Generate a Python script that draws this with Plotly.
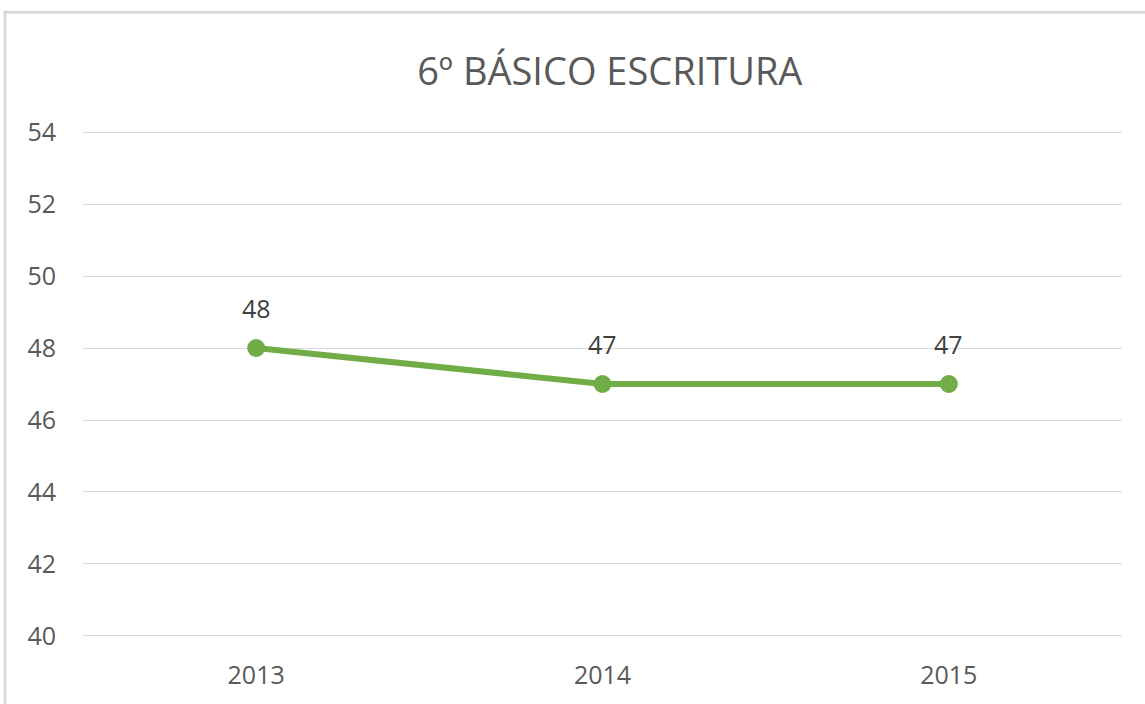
import plotly.graph_objects as go

years = ["2013", "2014", "2015"]
values = [48, 47, 47]
y_ticks = [40, 42, 44, 46, 48, 50, 52, 54]
title_text = "6º BÁSICO ESCRITURA"

FONT = "Open Sans"
fig = go.Figure()
fig.add_trace(go.Scatter(
    x=years, y=values, mode="lines+markers",
    line=dict(color="#70ad47", width=6),
    marker=dict(color="#70ad47", size=18),
    hoverinfo="x+y", showlegend=False, cliponaxis=False,
))
for i, yv in enumerate(values):
    fig.add_annotation(x=i, y=yv, xref="x", yref="y", text=str(yv), showarrow=False,
                       yshift=40, font=dict(family=FONT, size=25, color="#404040"))

fig.add_shape(type="rect", xref="paper", yref="paper",
              x0=-0.0751, x1=1.2, y0=-0.3, y1=1.232,
              line=dict(color="#d9d9d9", width=3), fillcolor="rgba(0,0,0,0)", layer="below")

fig.update_layout(
    width=1145, height=704,
    margin=dict(l=83, r=23, t=130, b=66),
    paper_bgcolor="white", plot_bgcolor="white",
    title=dict(text=title_text, x=0.507, xref="paper", xanchor="center",
               y=1 - 72 / 704, yref="container", yanchor="middle",
               font=dict(family=FONT, size=38, color="#595959")),
    xaxis=dict(type="category", range=[-0.5, 2.5], showgrid=False, showline=False,
               zeroline=False, ticks="", ticklabelstandoff=20,
               tickfont=dict(family=FONT, size=25, color="#595959")),
    yaxis=dict(range=[39.944, 54.056], tickvals=y_ticks, showgrid=True, gridcolor="#d9d9d9",
               gridwidth=1, zeroline=False, showline=False, ticks="",
               ticklabelstandoff=26,
               tickfont=dict(family=FONT, size=25, color="#595959")),
)
fig.write_html("out.html", config={"displayModeBar": False},
               post_script="document.body.style.margin='0px';")
